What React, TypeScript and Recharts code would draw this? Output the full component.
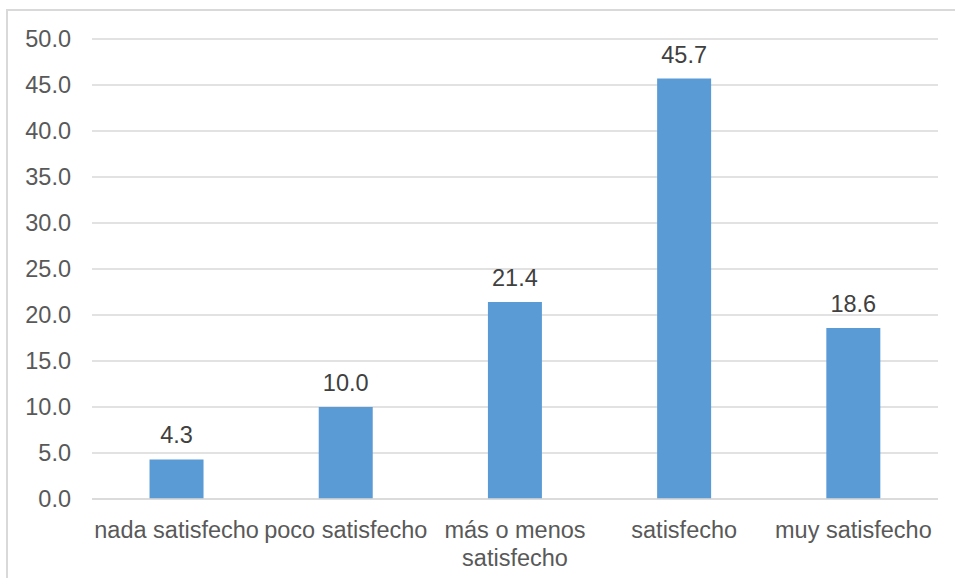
import React from "react";
import { BarChart, Bar, XAxis, YAxis, CartesianGrid, LabelList, Text } from "recharts";

const categories = ["nada satisfecho", "poco satisfecho", "más o menos satisfecho", "satisfecho", "muy satisfecho"];
const percentages = [4.3, 10.0, 21.4, 45.7, 18.6];
const yTicks = [0, 5, 10, 15, 20, 25, 30, 35, 40, 45, 50];

const data = categories.map((name, i) => ({ name, value: percentages[i] }));

const FONT = "'Liberation Sans', Arial, sans-serif";
const FONT_SIZE = 23.5;

// Category labels wrap onto a second line when wider than their band
const CategoryTick = (props: any) => {
  const { x, y, payload } = props;
  return (
    <Text
      x={x}
      y={y}
      width={168}
      textAnchor="middle"
      verticalAnchor="start"
      lineHeight={28}
      fill="#595959"
      style={{ fontSize: FONT_SIZE, fontFamily: FONT }}
    >
      {payload.value}
    </Text>
  );
};

export default function App() {
  return (
    <div style={{ position: "absolute", left: 0, top: 0, width: 955, height: 578, background: "#fff", overflow: "hidden" }}>
      <div
        style={{
          position: "absolute",
          left: 6,
          top: 9,
          width: 960,
          height: 600,
          borderLeft: "2px solid #d9d9d9",
          borderTop: "2px solid #d9d9d9",
          boxSizing: "border-box",
        }}
      />
      <div style={{ position: "absolute", left: 0, top: 0 }}>
        <BarChart
          width={955}
          height={578}
          data={data}
          margin={{ top: 39, right: 17, left: 0, bottom: 19 }}
          barCategoryGap="34%"
        >
          <CartesianGrid vertical={false} stroke="#d9d9d9" strokeWidth={1.5} />
          <XAxis
            dataKey="name"
            height={60}
            axisLine={{ stroke: "#d9d9d9", strokeWidth: 1.5 }}
            tickLine={false}
            tickMargin={16}
            interval={0}
            tick={<CategoryTick />}
          />
          <YAxis
            width={92}
            domain={[0, 50]}
            ticks={yTicks}
            axisLine={false}
            tickLine={false}
            tickMargin={15}
            tickFormatter={(v: number) => v.toFixed(1)}
            tick={{ fill: "#595959", fontSize: FONT_SIZE, fontFamily: FONT }}
          />
          <Bar dataKey="value" fill="#5b9bd5" isAnimationActive={false}>
            <LabelList
              dataKey="value"
              position="top"
              offset={16}
              formatter={(v: number) => v.toFixed(1)}
              style={{ fill: "#404040", fontSize: FONT_SIZE, fontFamily: FONT }}
            />
          </Bar>
        </BarChart>
      </div>
    </div>
  );
}
